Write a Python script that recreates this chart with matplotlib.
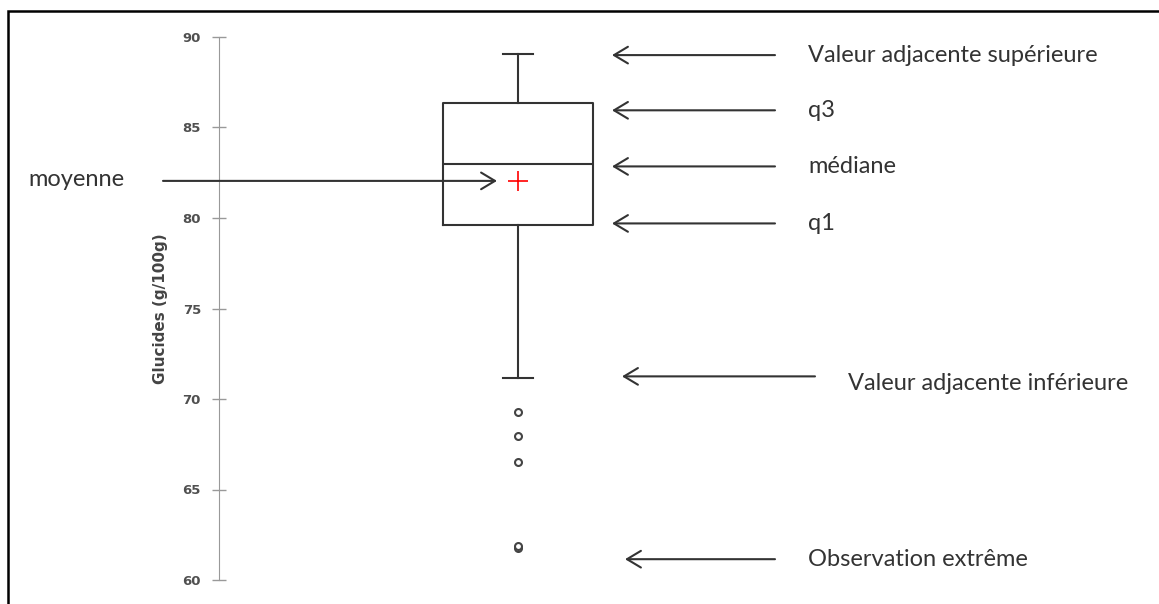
import matplotlib.pyplot as plt
from matplotlib.patches import Rectangle

# box plot statistics (Glucides, g/100g)
median = 83.0
q1 = 79.6
q3 = 86.35
whisker_low = 71.15
whisker_high = 89.05
mean = 82.05
outliers = [69.3, 67.95, 66.5, 61.75, 61.9]

yticks = [60, 65, 70, 75, 80, 85, 90]

labels_right = ["Valeur adjacente supérieure", "q3", "médiane", "q1",
                "Valeur adjacente inférieure", "Observation extrême"]
arrow_y = [89.0, 85.95, 82.85, 79.7, 71.25, 61.15]

dark = "#333333"
txt_font = ["Lato", "DejaVu Sans"]

fig = plt.figure(figsize=(11.59, 6.04), dpi=100)
ax = fig.add_axes([0, 24 / 604, 1, (580 - 37) / 604])

stats = [{"med": median, "q1": q1, "q3": q3, "whislo": whisker_low,
          "whishi": whisker_high, "mean": mean, "fliers": outliers}]
ax.bxp(stats, positions=[518], widths=150, capwidths=30, showmeans=True,
       boxprops=dict(color=dark, lw=1.5),
       medianprops=dict(color=dark, lw=1.5),
       whiskerprops=dict(color=dark, lw=1.5),
       capprops=dict(color=dark, lw=1.5),
       meanprops=dict(marker="+", markeredgecolor="red", markersize=14, markeredgewidth=1.2),
       flierprops=dict(marker="o", markerfacecolor="white", markeredgecolor="#444444",
                       markersize=5, markeredgewidth=1.5))

ax.set_xlim(0, 1159)
ax.set_ylim(60, 90)
ax.set_yticks(yticks)
for s in ["top", "right", "bottom"]:
    ax.spines[s].set_visible(False)
ax.spines["left"].set_position(("data", 219))
ax.spines["left"].set_color("#999999")
ax.set_xticks([])
ax.tick_params(axis="y", direction="inout", length=10, width=1, color="#999999",
               labelsize=9.5, labelcolor="#505050", pad=8)
for t in ax.get_yticklabels():
    t.set_fontweight("bold")
ax.set_ylabel("Glucides (g/100g)", fontsize=11, fontweight="bold", color="#444444", va="center")
ax.yaxis.set_label_coords(160 / 1159, 0.5)

arrow_kw = dict(arrowstyle="->,head_length=1.0,head_width=0.6", lw=1.5, color=dark,
                shrinkA=0, shrinkB=0)

# right-hand annotations
x_head = [612, 612, 612, 612, 622, 625]
x_tail = [775, 775, 775, 775, 815, 775]
x_text = [808, 808, 808, 808, 848, 808]
dy_text = [0, 0, 0, 0, -0.4, 0]
for lab, y, xh, xt, xl, dy in zip(labels_right, arrow_y, x_head, x_tail, x_text, dy_text):
    ax.annotate("", xy=(xh, y), xytext=(xt, y), arrowprops=arrow_kw, annotation_clip=False)
    ax.text(xl, y + dy, lab, fontsize=17, family=txt_font, color=dark, va="center", ha="left")

# mean annotation
ax.annotate("", xy=(497, mean), xytext=(163, mean), arrowprops=arrow_kw, annotation_clip=False)
ax.text(28, mean + 0.1, "moyenne", fontsize=17, family=txt_font, color=dark, va="center", ha="left")

# frame (only top and left edges visible)
fig.add_artist(Rectangle((8 / 1159, -0.5), 2, 0.5 + (604 - 11) / 604, transform=fig.transFigure,
                         fill=False, lw=1.8, edgecolor="black"))

fig.savefig("out.png", dpi=100)
